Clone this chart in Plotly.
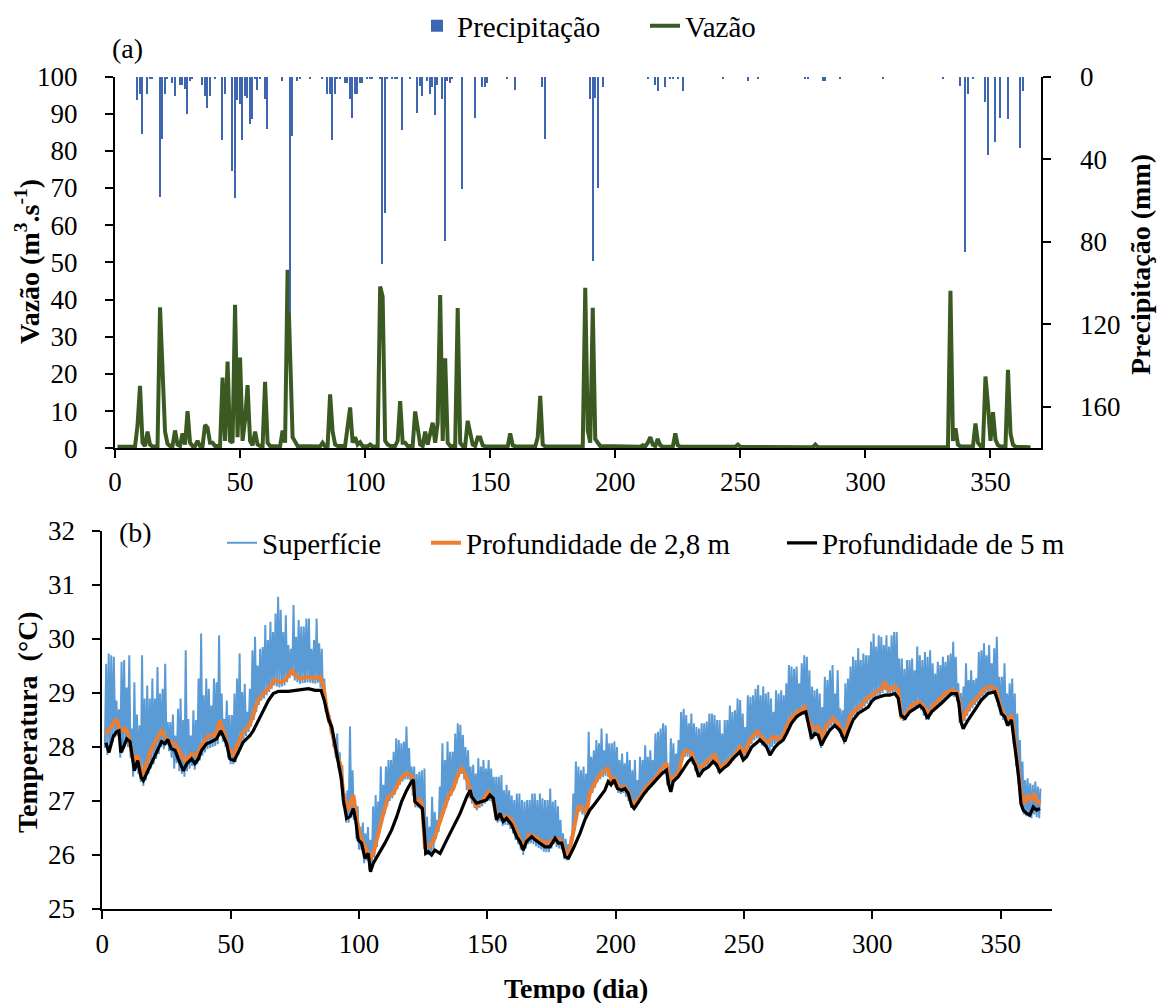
import plotly.graph_objects as go

# ---------------- panel (a): rainfall and streamflow ----------------
# daily rainfall (mm) on the days with rain
rain_day = [9, 10, 11, 13, 14, 15, 18, 19, 20, 21,
            23, 24, 26, 27, 28, 29, 30, 31, 35, 36,
            37, 38, 40, 43, 44, 47, 48, 49, 50, 51,
            52, 53, 54, 55, 56, 57, 58, 60, 61, 67,
            70, 71, 73, 74, 78, 83, 85, 86, 87, 88,
            89, 90, 92, 93, 94, 95, 96, 97, 98, 99,
            101, 102, 103, 106, 107, 108, 109, 111, 112, 113,
            115, 118, 121, 122, 123, 125, 126, 127, 128, 129,
            131, 132, 133, 134, 135, 139, 144, 147, 148, 149,
            157, 160, 171, 172, 190, 191, 192, 193, 195, 213,
            216, 217, 220, 222, 223, 225, 227, 243, 253, 257,
            276, 277, 283, 284, 290, 307, 331, 338, 340, 341,
            343, 348, 349, 352, 354, 357, 362, 363]
rain_mm = [11.3, 8.4, 27.7, 8.4, 1.0, 1.0, 57.9, 30.0, 8.4, 1.0,
           3.0, 9.0, 4.0, 4.0, 6.0, 17.7, 2.0, 1.0, 4.0, 9.0,
           14.8, 9.0, 1.0, 30.6, 8.4, 45.5, 58.4, 11.0, 13.0, 30.6,
           9.0, 10.0, 22.6, 20.5, 1.0, 6.5, 1.0, 10.6, 25.3, 2.0,
           114.0, 28.5, 2.0, 1.0, 1.0, 1.0, 8.0, 8.0, 30.6, 8.0,
           1.0, 1.0, 3.0, 3.0, 10.8, 19.7, 8.0, 8.0, 3.0, 3.0,
           1.0, 1.0, 1.0, 1.0, 90.6, 65.6, 1.0, 1.0, 1.0, 1.0,
           25.8, 1.0, 17.3, 4.4, 9.4, 2.0, 8.0, 5.0, 18.4, 4.0,
           10.6, 79.3, 2.0, 3.0, 1.0, 54.3, 20.0, 5.0, 5.0, 3.0,
           1.0, 6.5, 5.0, 30.1, 10.8, 89.3, 10.0, 53.5, 5.0, 1.0,
           4.0, 7.0, 5.0, 1.0, 1.0, 1.0, 7.0, 1.0, 2.0, 1.0,
           1.0, 1.0, 2.0, 2.0, 1.0, 1.0, 1.0, 4.4, 84.5, 8.0,
           1.0, 12.0, 37.9, 31.3, 20.0, 20.5, 34.2, 7.0]

# streamflow (m3/s): each event with the base-flow days around it
flow_day = [1, 8, 9, 10, 11, 12, 13, 14, 15, 17,
            18, 19, 20, 21, 22, 23, 24, 25, 26, 27,
            28, 29, 30, 31, 32, 33, 34, 35, 36, 37,
            38, 39, 40, 42, 43, 44, 45, 46, 47, 48,
            49, 50, 51, 52, 53, 54, 55, 56, 57, 58,
            59, 60, 61, 62, 66, 67, 68, 69, 70, 71,
            72, 73, 82, 83, 84, 85, 86, 87, 88, 89,
            92, 93, 94, 95, 96, 97, 98, 99, 101, 102,
            103, 105, 106, 107, 108, 109, 110, 112, 113, 114,
            115, 116, 117, 119, 120, 121, 122, 123, 124, 125,
            126, 127, 128, 129, 130, 131, 132, 133, 134, 136,
            137, 138, 139, 140, 141, 142, 143, 144, 145, 146,
            147, 148, 157, 158, 159, 160, 168, 169, 170, 171,
            172, 187, 188, 189, 190, 191, 192, 193, 194, 210,
            211, 212, 213, 214, 215, 216, 217, 218, 219, 223,
            224, 225, 226, 248, 249, 250, 279, 280, 281, 333,
            334, 335, 336, 337, 338, 343, 344, 345, 346, 347,
            348, 349, 350, 351, 352, 353, 354, 356, 357, 358,
            359, 360, 366]
flow_q = [0.4, 0.4, 6.1, 16.8, 1.5, 0.6, 4.5, 1.0, 0.5, 0.5,
          37.9, 18.8, 4.5, 1.2, 0.6, 0.6, 4.8, 1.0, 0.6, 4.0,
          1.0, 10.0, 1.5, 0.6, 0.6, 2.0, 0.6, 0.6, 6.3, 5.5,
          1.5, 1.5, 0.6, 0.6, 19.0, 2.0, 23.3, 2.0, 1.5, 38.6,
          3.0, 24.4, 2.0, 7.6, 17.0, 2.0, 0.8, 4.5, 1.0, 0.6,
          0.6, 17.9, 1.5, 0.6, 0.5, 4.8, 1.5, 48.0, 20.6, 3.0,
          1.8, 0.6, 0.5, 1.5, 0.5, 0.6, 14.5, 4.5, 1.0, 0.6,
          0.6, 5.0, 11.0, 1.5, 3.0, 1.0, 1.6, 0.6, 0.5, 1.0,
          0.5, 0.5, 43.5, 40.8, 2.0, 1.0, 0.6, 0.6, 2.0, 12.7,
          1.5, 1.5, 0.6, 0.6, 9.9, 5.5, 1.0, 0.6, 4.5, 1.0,
          4.7, 6.9, 1.5, 6.8, 41.2, 2.0, 24.2, 1.5, 0.6, 0.6,
          37.7, 1.5, 0.6, 0.6, 7.4, 4.0, 1.0, 0.6, 2.9, 2.9,
          0.8, 0.5, 0.5, 4.0, 0.8, 0.5, 0.5, 3.0, 14.1, 1.0,
          0.5, 0.5, 43.2, 4.8, 1.5, 37.8, 2.5, 1.5, 0.6, 0.4,
          0.8, 0.5, 1.5, 3.0, 1.0, 0.6, 2.5, 0.8, 0.4, 0.4,
          4.0, 0.8, 0.4, 0.4, 1.0, 0.4, 0.3, 1.0, 0.3, 0.3,
          42.4, 2.0, 5.4, 1.0, 0.5, 0.5, 6.7, 1.5, 0.6, 0.6,
          19.3, 11.7, 2.0, 9.7, 2.3, 0.8, 0.5, 0.5, 21.1, 4.0,
          1.0, 0.4, 0.3]

# ---------------- panel (b): water temperature ----------------
# surface: daily minimum and maximum (°C), days 1..365
surf_min = [27.98, 27.85, 27.90, 28.10, 28.18, 28.20, 27.80, 27.90, 28.05, 28.00,
            27.80, 27.45, 27.60, 27.50, 27.35, 27.28, 27.38, 27.50, 27.60, 27.68,
            27.78, 27.87, 28.00, 27.96, 28.04, 27.92, 27.80, 27.60, 27.70, 27.55,
            27.50, 27.45, 27.55, 27.60, 27.65, 27.58, 27.68, 27.75, 27.84, 27.90,
            27.96, 27.98, 28.00, 28.02, 28.05, 28.20, 28.10, 28.00, 27.80, 27.68,
            27.68, 27.72, 27.85, 27.98, 28.10, 28.20, 28.28, 28.38, 28.50, 28.65,
            28.78, 28.86, 28.90, 28.96, 29.02, 29.08, 29.14, 29.12, 29.10, 29.12,
            29.14, 29.20, 29.28, 29.32, 29.23, 29.20, 29.17, 29.18, 29.19, 29.20,
            29.19, 29.18, 29.17, 29.19, 29.10, 28.90, 28.65, 28.45, 28.25, 28.00,
            27.80, 27.60, 27.30, 26.90, 26.60, 26.60, 26.70, 26.65, 26.30, 26.10,
            26.10, 25.85, 25.90, 25.72, 25.75, 25.95, 26.15, 26.40, 26.60, 26.75,
            26.90, 27.00, 27.05, 27.12, 27.22, 27.30, 27.36, 27.40, 27.40, 27.38,
            27.10, 26.88, 26.88, 26.85, 26.40, 26.00, 26.00, 26.00, 26.05, 26.30,
            26.43, 26.60, 26.75, 26.88, 27.02, 27.10, 27.20, 27.32, 27.45, 27.50,
            27.40, 27.20, 27.05, 26.95, 26.87, 26.83, 26.87, 26.90, 26.95, 27.00,
            27.00, 26.97, 26.72, 26.60, 26.62, 26.54, 26.56, 26.55, 26.48, 26.40,
            26.28, 26.20, 26.10, 26.00, 26.12, 26.20, 26.22, 26.20, 26.16, 26.13,
            26.10, 26.06, 26.05, 26.05, 26.12, 26.20, 26.15, 26.12, 26.10, 25.92,
            25.90, 25.95, 26.20, 26.45, 26.75, 26.80, 26.75, 26.70, 26.90, 27.08,
            27.15, 27.25, 27.35, 27.40, 27.44, 27.47, 27.45, 27.30, 27.30, 27.25,
            27.15, 27.13, 27.15, 27.08, 27.00, 26.87, 26.85, 26.88, 26.95, 27.03,
            27.10, 27.16, 27.21, 27.26, 27.31, 27.38, 27.45, 27.52, 27.58, 27.30,
            27.20, 27.32, 27.36, 27.41, 27.60, 27.77, 27.82, 27.82, 27.79, 27.68,
            27.55, 27.45, 27.52, 27.56, 27.62, 27.65, 27.68, 27.72, 27.64, 27.52,
            27.55, 27.58, 27.62, 27.66, 27.70, 27.75, 27.82, 27.88, 27.82, 27.77,
            27.86, 27.98, 28.05, 28.12, 28.16, 28.12, 28.03, 28.00, 27.97, 27.90,
            28.00, 28.05, 28.03, 28.07, 28.12, 28.22, 28.34, 28.42, 28.49, 28.52,
            28.55, 28.59, 28.62, 28.58, 28.38, 28.12, 28.20, 28.20, 28.15, 27.98,
            28.10, 28.25, 28.33, 28.38, 28.38, 28.35, 28.28, 28.18, 28.05, 28.22,
            28.45, 28.52, 28.58, 28.62, 28.66, 28.70, 28.75, 28.80, 28.84, 28.87,
            28.90, 28.93, 28.96, 29.00, 29.05, 28.97, 28.98, 29.00, 28.98, 28.90,
            28.55, 28.48, 28.50, 28.58, 28.66, 28.70, 28.73, 28.73, 28.68, 28.58,
            28.50, 28.50, 28.60, 28.68, 28.74, 28.78, 28.82, 28.88, 28.90, 28.94,
            28.94, 28.92, 28.85, 28.45, 28.35, 28.48, 28.58, 28.66, 28.72, 28.78,
            28.82, 28.87, 28.93, 28.98, 29.00, 29.00, 28.98, 28.95, 28.75, 28.58,
            28.50, 28.45, 28.38, 28.45, 28.05, 27.65, 27.30, 26.90, 26.75, 26.72,
            26.70, 26.68, 26.75, 26.70, 26.68]
surf_max = [29.54, 29.73, 29.70, 29.67, 28.86, 28.70, 29.58, 29.61, 29.10, 29.70,
            28.34, 29.20, 28.60, 28.40, 29.70, 28.90, 29.14, 28.90, 29.27, 28.90,
            29.48, 28.99, 29.08, 29.54, 28.46, 28.46, 28.60, 28.21, 28.71, 28.90,
            28.50, 29.79, 28.52, 28.21, 28.68, 28.50, 29.27, 30.10, 28.96, 29.27,
            29.08, 28.77, 29.27, 29.20, 30.07, 28.99, 28.52, 28.86, 28.59, 28.59,
            28.99, 29.27, 29.73, 29.02, 29.17, 28.65, 29.08, 29.79, 30.04, 29.51,
            29.82, 29.85, 30.26, 29.98, 30.32, 30.13, 30.47, 30.78, 30.54, 30.13,
            30.44, 29.89, 29.82, 30.63, 30.04, 30.35, 30.23, 30.23, 30.38, 30.38,
            29.82, 29.98, 30.38, 29.92, 29.82, 29.27, 28.77, 28.59, 28.40, 28.05,
            28.25, 27.90, 27.66, 27.14, 27.20, 28.38, 27.57, 27.02, 26.90, 26.52,
            26.60, 26.40, 26.52, 26.28, 26.90, 27.11, 26.99, 27.64, 27.30, 27.64,
            27.76, 27.76, 27.91, 28.16, 28.13, 28.07, 28.10, 28.38, 27.98, 27.64,
            27.64, 27.50, 27.54, 27.57, 27.60, 26.71, 26.52, 27.08, 26.80, 26.65,
            27.27, 28.07, 27.76, 28.10, 27.91, 27.91, 28.25, 28.44, 28.41, 28.22,
            28.00, 27.94, 27.64, 27.67, 27.51, 27.79, 27.64, 27.76, 27.60, 27.76,
            27.60, 27.45, 27.45, 27.45, 27.48, 27.20, 27.30, 27.20, 27.10, 27.02,
            27.14, 27.14, 27.02, 26.99, 27.02, 27.02, 27.14, 27.14, 27.02, 27.14,
            27.05, 27.02, 27.02, 27.23, 26.99, 27.02, 26.90, 26.65, 26.40, 26.30,
            26.20, 26.34, 27.14, 27.73, 27.64, 27.57, 27.64, 27.51, 28.28, 27.82,
            27.94, 28.13, 28.07, 28.34, 27.94, 28.25, 28.07, 28.07, 28.10, 28.00,
            27.76, 27.88, 27.70, 27.91, 27.76, 27.57, 27.76, 27.39, 27.82, 27.76,
            28.03, 27.82, 27.94, 27.76, 28.25, 28.28, 28.34, 28.44, 28.40, 27.63,
            28.16, 28.07, 27.88, 28.13, 28.65, 28.71, 28.59, 28.44, 28.62, 28.44,
            28.37, 28.34, 28.44, 28.44, 28.47, 28.62, 28.62, 28.59, 28.50, 28.50,
            28.25, 28.50, 28.50, 28.77, 28.65, 28.68, 28.90, 28.87, 28.62, 28.37,
            28.96, 28.93, 28.96, 29.08, 29.15, 28.96, 29.12, 28.99, 29.02, 28.90,
            28.65, 29.05, 28.99, 29.05, 28.96, 29.18, 29.52, 29.49, 29.45, 29.49,
            29.18, 29.55, 29.70, 29.67, 29.42, 29.12, 29.05, 29.08, 28.99, 28.74,
            29.30, 29.24, 29.42, 29.52, 28.99, 29.42, 28.71, 28.68, 29.18, 29.27,
            29.49, 29.67, 29.61, 29.83, 29.61, 29.73, 29.70, 29.70, 29.95, 30.10,
            29.86, 30.07, 30.04, 29.89, 30.07, 29.86, 30.07, 30.13, 30.13, 29.64,
            29.64, 29.45, 29.61, 29.61, 29.64, 29.42, 29.86, 29.70, 29.61, 29.76,
            29.67, 29.79, 29.55, 29.36, 29.58, 29.52, 29.67, 29.58, 29.70, 29.73,
            29.95, 29.67, 29.18, 29.00, 29.12, 29.55, 29.24, 29.42, 29.24, 29.27,
            29.76, 29.79, 29.92, 29.70, 29.89, 29.55, 29.83, 30.04, 29.30, 29.30,
            29.55, 28.99, 29.18, 29.27, 28.99, 28.62, 28.13, 27.73, 27.39, 27.42,
            27.33, 27.30, 27.36, 27.27, 27.23]

# 2.8 m depth (°C)
t28_day = [1.4, 3.6, 5.6, 6.9, 8.8, 10.1, 12.1, 13.8, 15.3, 16.6,
           18.6, 20.5, 23.1, 24.7, 26.4, 28.3, 30.3, 32.2, 34.8, 36.8,
           38.7, 41.3, 43.9, 45.8, 47.8, 49.1, 51.0, 53.0, 54.9, 56.9,
           58.8, 60.1, 62.1, 64.7, 67.3, 69.2, 71.2, 73.8, 75.1, 77.0,
           80.3, 82.9, 84.8, 86.1, 87.4, 88.7, 90.0, 91.7, 92.6, 93.9,
           95.8, 97.8, 99.1, 101.0, 103.0, 104.3, 105.6, 107.5, 109.5, 111.4,
           113.4, 115.3, 117.3, 119.2, 120.8, 122.1, 123.8, 124.7, 125.7, 127.0,
           129.0, 130.9, 132.9, 134.8, 136.8, 138.7, 140.0, 141.3, 142.6, 143.9,
           145.8, 147.8, 150.4, 152.3, 153.6, 155.6, 157.5, 159.5, 162.1, 164.0,
           166.0, 168.6, 171.2, 173.8, 176.4, 179.0, 180.3, 181.6, 182.9, 184.1,
           185.4, 186.7, 188.6, 189.9, 191.2, 193.2, 195.1, 196.8, 198.4, 199.7,
           201.6, 203.6, 205.1, 206.4, 208.1, 210.1, 212.0, 214.0, 215.9, 217.9,
           219.8, 221.1, 222.4, 224.4, 226.3, 227.6, 229.6, 231.5, 233.4, 235.4,
           237.3, 238.6, 240.6, 242.5, 244.5, 246.4, 248.4, 250.3, 252.3, 254.2,
           255.5, 257.5, 259.4, 261.4, 263.3, 265.3, 267.2, 269.2, 271.1, 273.7,
           275.0, 277.0, 278.9, 280.2, 282.1, 284.7, 286.7, 289.3, 291.2, 293.2,
           295.8, 297.7, 299.7, 301.6, 303.6, 304.9, 306.2, 308.8, 310.1, 311.4,
           313.3, 315.3, 317.9, 319.8, 321.8, 323.7, 325.6, 328.3, 330.8, 332.8,
           333.8, 334.7, 336.0, 338.0, 341.2, 343.8, 346.4, 348.4, 349.3, 351.0,
           352.9, 354.2, 355.5, 356.8, 358.1, 359.2, 360.5, 361.8, 363.1, 364.4,
           365.3]
t28_val = [28.24, 28.40, 28.52, 28.28, 28.34, 28.24, 27.75, 27.84, 27.47, 27.60,
           27.90, 28.09, 28.30, 28.18, 28.09, 28.06, 27.90, 27.75, 27.87, 27.84,
           28.03, 28.21, 28.21, 28.49, 28.21, 27.97, 27.87, 28.09, 28.28, 28.37,
           28.58, 28.80, 28.96, 29.08, 29.24, 29.20, 29.24, 29.42, 29.33, 29.27,
           29.30, 29.27, 29.30, 29.14, 28.71, 28.46, 28.15, 27.78, 27.70, 27.14,
           26.83, 27.11, 26.65, 26.28, 26.09, 25.91, 26.03, 26.40, 26.77, 27.08,
           27.14, 27.33, 27.48, 27.51, 27.45, 26.96, 27.02, 26.90, 26.15, 26.15,
           26.25, 26.53, 26.83, 27.08, 27.24, 27.51, 27.60, 27.51, 27.33, 27.08,
           26.90, 26.99, 27.17, 27.02, 26.71, 26.71, 26.71, 26.65, 26.34, 26.12,
           26.37, 26.34, 26.25, 26.22, 26.31, 26.25, 26.03, 26.00, 26.28, 26.56,
           26.89, 26.89, 26.77, 27.14, 27.26, 27.45, 27.54, 27.60, 27.39, 27.42,
           27.23, 27.26, 27.14, 26.95, 26.98, 27.14, 27.26, 27.36, 27.45, 27.60,
           27.70, 27.39, 27.42, 27.51, 27.88, 27.94, 27.88, 27.63, 27.63, 27.73,
           27.79, 27.85, 27.60, 27.70, 27.76, 27.85, 28.00, 27.88, 28.13, 28.25,
           28.28, 28.13, 28.10, 28.19, 28.13, 28.22, 28.44, 28.59, 28.65, 28.74,
           28.50, 28.34, 28.37, 28.13, 28.40, 28.53, 28.44, 28.19, 28.56, 28.68,
           28.77, 28.90, 28.96, 29.02, 29.08, 29.21, 29.05, 29.12, 29.05, 28.56,
           28.59, 28.77, 28.84, 28.77, 28.59, 28.77, 28.87, 28.99, 29.05, 29.02,
           28.87, 28.50, 28.59, 28.77, 28.93, 29.08, 29.12, 29.05, 28.84, 28.62,
           28.50, 28.59, 28.13, 27.63, 27.08, 26.95, 27.11, 27.02, 27.14, 26.95,
           27.02]

# 5 m depth (°C)
t5_day = [1.4, 2.6, 4.3, 5.6, 6.5, 7.2, 8.3, 9.5, 10.8, 12.5,
          13.8, 15.1, 16.0, 17.0, 17.9, 19.9, 21.8, 23.1, 24.4, 25.5,
          26.8, 28.3, 29.6, 31.6, 32.9, 34.8, 36.1, 37.4, 38.7, 40.6,
          42.6, 44.5, 46.2, 47.5, 48.4, 49.7, 51.4, 53.0, 54.9, 56.2,
          57.5, 58.8, 60.8, 62.7, 64.7, 66.6, 68.6, 72.5, 76.4, 80.3,
          82.9, 85.2, 86.5, 88.1, 89.4, 90.5, 91.9, 93.2, 93.9, 95.2,
          96.5, 97.8, 98.7, 99.7, 101.0, 102.3, 103.6, 104.5, 105.6, 107.5,
          110.1, 112.7, 114.7, 116.6, 118.6, 120.5, 121.2, 121.8, 123.1, 124.7,
          125.5, 126.0, 127.0, 128.3, 129.6, 131.6, 134.2, 136.8, 139.4, 142.0,
          143.3, 143.9, 145.8, 147.8, 149.7, 151.0, 152.3, 153.6, 154.9, 156.2,
          157.5, 159.5, 161.4, 162.7, 164.0, 165.3, 167.3, 168.6, 170.5, 172.5,
          174.4, 176.4, 177.7, 179.0, 180.3, 181.6, 183.5, 186.1, 188.0, 189.9,
          191.9, 193.8, 195.8, 197.1, 198.2, 199.4, 200.7, 202.3, 203.6, 204.9,
          206.2, 207.2, 208.8, 210.7, 212.7, 214.6, 216.6, 218.1, 219.8, 220.7,
          221.5, 222.4, 224.4, 226.3, 228.3, 229.6, 230.9, 232.4, 234.1, 236.1,
          238.0, 239.3, 240.6, 241.9, 243.8, 245.8, 247.1, 248.4, 249.7, 251.0,
          253.0, 254.9, 256.2, 257.5, 258.8, 260.1, 262.1, 263.6, 265.3, 266.6,
          268.5, 270.5, 272.4, 274.1, 275.0, 276.3, 277.6, 278.9, 280.2, 281.5,
          283.4, 285.4, 287.3, 289.3, 290.6, 292.5, 294.5, 296.4, 298.4, 299.7,
          301.0, 302.9, 304.9, 306.8, 308.8, 310.1, 311.1, 312.7, 314.6, 316.6,
          318.5, 319.8, 321.5, 323.1, 325.0, 326.9, 328.9, 330.8, 332.8, 333.7,
          334.5, 335.4, 337.3, 339.9, 342.5, 345.1, 347.7, 349.0, 350.3, 351.6,
          352.7, 354.2, 355.3, 356.2, 357.1, 357.9, 358.8, 360.1, 361.4, 362.7,
          364.0, 365.3]
t5_val = [28.08, 27.90, 28.20, 28.28, 28.30, 27.90, 28.00, 28.15, 28.10, 27.56,
          27.75, 27.44, 27.38, 27.48, 27.60, 27.78, 27.97, 28.10, 28.06, 28.14,
          27.97, 27.94, 27.78, 27.56, 27.69, 27.78, 27.69, 27.78, 27.94, 28.06,
          28.10, 28.15, 28.30, 28.15, 28.07, 27.78, 27.75, 27.90, 28.09, 28.15,
          28.21, 28.30, 28.49, 28.65, 28.86, 28.99, 29.03, 29.03, 29.05, 29.08,
          29.05, 29.05, 28.86, 28.52, 28.37, 28.09, 27.76, 27.39, 27.02, 26.68,
          26.71, 26.86, 26.65, 26.28, 26.22, 25.94, 26.03, 25.69, 25.85, 26.00,
          26.22, 26.46, 26.71, 26.99, 27.20, 27.36, 27.39, 26.99, 26.93, 26.86,
          26.40, 26.03, 26.06, 26.00, 26.09, 26.03, 26.28, 26.53, 26.77, 27.08,
          27.20, 27.08, 26.96, 26.99, 27.02, 27.11, 27.05, 26.65, 26.77, 26.62,
          26.68, 26.56, 26.34, 26.25, 26.09, 26.25, 26.34, 26.28, 26.22, 26.15,
          26.15, 26.31, 26.22, 26.22, 25.97, 25.94, 26.12, 26.40, 26.65, 26.83,
          26.95, 27.08, 27.20, 27.36, 27.30, 27.39, 27.23, 27.20, 27.23, 27.14,
          26.92, 26.86, 26.98, 27.11, 27.23, 27.33, 27.42, 27.51, 27.57, 27.30,
          27.17, 27.36, 27.45, 27.60, 27.73, 27.79, 27.67, 27.45, 27.57, 27.63,
          27.73, 27.67, 27.54, 27.60, 27.67, 27.79, 27.85, 27.91, 27.76, 27.82,
          28.00, 28.07, 28.13, 28.07, 28.00, 27.85, 28.00, 28.07, 28.13, 28.25,
          28.44, 28.56, 28.62, 28.65, 28.44, 28.16, 28.25, 28.22, 28.03, 28.16,
          28.31, 28.40, 28.31, 28.10, 28.28, 28.50, 28.62, 28.68, 28.74, 28.84,
          28.90, 28.93, 28.96, 28.96, 28.99, 28.90, 28.59, 28.53, 28.65, 28.71,
          28.77, 28.71, 28.53, 28.65, 28.74, 28.81, 28.90, 28.99, 28.99, 28.81,
          28.47, 28.34, 28.50, 28.68, 28.87, 28.99, 29.02, 28.84, 28.62, 28.56,
          28.40, 28.50, 28.13, 27.76, 27.39, 26.95, 26.83, 26.77, 26.74, 26.89,
          26.83, 26.86]

day_ticks = [0, 50, 100, 150, 200, 250, 300, 350]
flow_ticks = [0, 10, 20, 30, 40, 50, 60, 70, 80, 90, 100]
rain_ticks = [0, 40, 80, 120, 160]
temp_ticks = [25, 26, 27, 28, 29, 30, 31, 32]

# surface series: minimum at the start of each day, maximum half a day later
surf_x, surf_y = [], []
for d, (lo, hi) in enumerate(zip(surf_min, surf_max), start=1):
    surf_x += [d, d + 0.5]
    surf_y += [lo, hi]

W, H = 1158, 1003
FONT = "Liberation Serif"
TICK_SIZE = 27
LEGEND_SIZE = 29
TITLE_SIZE = 28


def fx(px):
    return px / W


def fy(px):
    return 1 - px / H


fig = go.Figure()

fig.add_trace(go.Bar(
    x=rain_day, y=rain_mm, width=0.6, name="Precipitação",
    marker=dict(color="#3f66b0", line=dict(width=0)),
    xaxis="x", yaxis="y2", legend="legend"))
fig.add_trace(go.Scatter(
    x=flow_day, y=flow_q, mode="lines", name="Vazão",
    line=dict(color="#3a5a22", width=4),
    xaxis="x", yaxis="y", legend="legend2"))

fig.add_trace(go.Scatter(
    x=surf_x, y=surf_y, mode="lines", name="Superfície",
    line=dict(color="#5b9bd5", width=2),
    xaxis="x2", yaxis="y3", legend="legend3"))
fig.add_trace(go.Scatter(
    x=t28_day, y=t28_val, mode="lines", name="Profundidade de 2,8 m",
    line=dict(color="#ed7d31", width=4),
    xaxis="x2", yaxis="y3", legend="legend4"))
fig.add_trace(go.Scatter(
    x=t5_day, y=t5_val, mode="lines", name="Profundidade de 5 m",
    line=dict(color="#000000", width=3.2),
    xaxis="x2", yaxis="y3", legend="legend5"))

axis_common = dict(
    showline=True, linecolor="black", linewidth=2,
    ticks="outside", ticklen=8, tickwidth=2, tickcolor="black",
    showgrid=False, zeroline=False, automargin=False,
    tickfont=dict(family=FONT, size=TICK_SIZE, color="black"),
)


def legend_at(text_left, center_y):
    # one legend box per series, placed by the left edge of its label
    return dict(orientation="h", x=fx(text_left - 41), y=fy(center_y),
                xanchor="left", yanchor="middle", bgcolor="rgba(0,0,0,0)",
                font=dict(family=FONT, size=LEGEND_SIZE, color="black"))


fig.update_layout(
    width=W, height=H,
    margin=dict(l=0, r=0, t=0, b=0, pad=0),
    paper_bgcolor="white", plot_bgcolor="white",
    font=dict(family=FONT, size=TICK_SIZE, color="black"),
    bargap=0,
    xaxis=dict(domain=[fx(115), fx(1040.5)], range=[0, 370], anchor="y",
               tickvals=day_ticks, ticklabelstandoff=0, **axis_common),
    yaxis=dict(domain=[fy(448.3), fy(76.5)], range=[0, 100], anchor="x",
               tickvals=flow_ticks, ticklabelstandoff=22, **axis_common),
    yaxis2=dict(range=[180, 0], overlaying="y", side="right", anchor="x",
                tickvals=rain_ticks, ticklabelstandoff=24, **axis_common),
    xaxis2=dict(domain=[fx(102.3), fx(1052)], range=[0, 370], anchor="y3",
                tickvals=day_ticks, ticklabelstandoff=2, **axis_common),
    yaxis3=dict(domain=[fy(909), fy(531)], range=[25, 32], anchor="x2",
                tickvals=temp_ticks, ticklabelstandoff=12, **axis_common),
    legend=legend_at(458, 26),
    legend2=legend_at(686, 26),
    legend3=legend_at(263, 543),
    legend4=legend_at(467, 543),
    legend5=legend_at(823, 543),
    showlegend=True,
)

annotations = [
    dict(text="(a)", x=fx(127), y=fy(48)),
    dict(text="(b)", x=fx(135), y=fy(532)),
    dict(text="<b>Vazão (m<sup>3</sup>.s<sup>-1</sup>)</b>", x=fx(27), y=fy(262),
         textangle=-90),
    dict(text="<b>Precipitação (mm)</b>", x=fx(1140), y=fy(265), textangle=-90),
    dict(text="<b>Temperatura\u00a0\u00a0(°C)</b>", x=fx(27), y=fy(722),
         textangle=-90),
    dict(text="<b>Tempo (dia)</b>", x=fx(576), y=fy(988)),
]
for a in annotations:
    a.update(xref="paper", yref="paper", showarrow=False,
             xanchor="center", yanchor="middle",
             font=dict(family=FONT, size=TITLE_SIZE, color="black"))
fig.update_layout(annotations=annotations)

fig.write_html("out.html")
